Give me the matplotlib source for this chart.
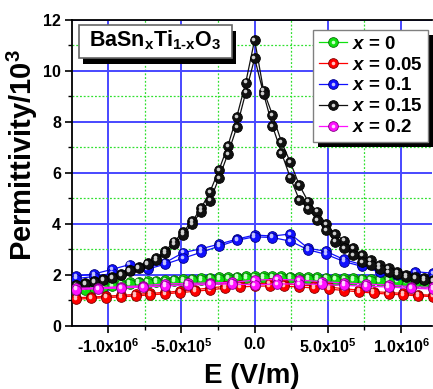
import matplotlib
matplotlib.use('Agg')
import matplotlib.pyplot as plt
from matplotlib.patches import Rectangle
from matplotlib.ticker import FixedLocator, MultipleLocator
from matplotlib.legend_handler import HandlerTuple
import matplotlib.transforms as mtransforms

# ---------------- data (E in kV/m, permittivity in 10^3) ----------------
E_black = [-1220, -1159, -1098, -1037, -976, -915, -854, -793, -732, -671, -610,
           -549, -488, -427, -366, -305, -244, -183, -122, -61, 0, 61, 122, 183,
           244, 305, 366, 427, 488, 549, 610, 671, 732, 793, 854, 915, 976, 1037,
           1098, 1159, 1220]
E_green = E_black
E_red = [-1220, -1118, -1017, -915, -813, -712, -610, -508, -407, -305, -203, -102,
         0, 102, 203, 305, 407, 508, 610, 712, 813, 915, 1017, 1118, 1220]
E_blue = [-1220, -1098, -976, -854, -732, -610, -488, -366, -244, -122, 0, 122,
          244, 366, 488, 610, 732, 854, 976, 1098, 1220]
E_mag = [-1220, -1067.5, -915, -762.5, -610, -457.5, -305, -152.5, 0, 152.5, 305,
         457.5, 610, 762.5, 915, 1067.5, 1220]

green_up = [1.42, 1.48, 1.55, 1.60, 1.64, 1.67, 1.70, 1.73, 1.75, 1.77, 1.79, 1.81,
            1.83, 1.85, 1.87, 1.89, 1.91, 1.92, 1.93, 1.94, 1.95, 1.95, 1.95, 1.94,
            1.93, 1.92, 1.91, 1.90, 1.89, 1.88, 1.87, 1.86, 1.85, 1.84, 1.83, 1.82,
            1.80, 1.78, 1.76, 1.74, 1.72]
green_lo = [1.36, 1.42, 1.48, 1.53, 1.57, 1.60, 1.63, 1.66, 1.68, 1.70, 1.72, 1.74,
            1.76, 1.78, 1.80, 1.82, 1.83, 1.85, 1.86, 1.87, 1.88, 1.88, 1.88, 1.87,
            1.86, 1.85, 1.84, 1.83, 1.82, 1.81, 1.80, 1.79, 1.78, 1.77, 1.76, 1.75,
            1.73, 1.71, 1.69, 1.67, 1.65]

red_up = [1.10, 1.12, 1.16, 1.19, 1.23, 1.27, 1.31, 1.36, 1.42, 1.48, 1.55, 1.60,
          1.65, 1.66, 1.64, 1.60, 1.56, 1.52, 1.45, 1.40, 1.34, 1.30, 1.27, 1.22, 1.20]
red_lo = [1.04, 1.07, 1.10, 1.13, 1.17, 1.21, 1.25, 1.30, 1.35, 1.41, 1.47, 1.52,
          1.55, 1.56, 1.55, 1.52, 1.48, 1.44, 1.38, 1.33, 1.28, 1.24, 1.21, 1.17, 1.14]

blue_up = [1.95, 2.03, 2.21, 2.40, 2.30, 2.48, 2.87, 3.02, 3.20, 3.40, 3.56, 3.52,
           3.60, 3.04, 2.92, 2.60, 2.40, 2.15, 2.08, 2.12, 2.06]
blue_lo = [1.85, 1.93, 2.05, 2.20, 2.22, 2.42, 2.65, 2.88, 3.12, 3.35, 3.49, 3.46,
           3.32, 2.98, 2.80, 2.52, 2.33, 2.10, 1.98, 1.95, 1.92]

black_up = [1.60, 1.66, 1.74, 1.83, 1.92, 2.03, 2.19, 2.30, 2.47, 2.65, 2.94, 3.30,
            3.69, 4.10, 4.61, 5.26, 6.11, 7.06, 8.20, 9.54, 11.22, 9.23, 8.27, 7.22,
            6.41, 5.52, 4.87, 4.48, 3.99, 3.60, 3.34, 3.04, 2.78, 2.58, 2.38, 2.25,
            2.12, 1.99, 1.92, 1.86, 1.80]
black_lo = [1.58, 1.63, 1.71, 1.79, 1.88, 1.99, 2.13, 2.25, 2.41, 2.59, 2.86, 3.20,
            3.58, 4.00, 4.48, 4.91, 5.79, 6.74, 7.79, 9.15, 10.50, 9.10, 7.84, 6.79,
            5.81, 4.94, 4.60, 4.15, 3.76, 3.30, 3.04, 2.78, 2.51, 2.40, 2.24, 2.12,
            2.02, 1.92, 1.85, 1.80, 1.74]

mag_up = [1.47, 1.49, 1.53, 1.57, 1.64, 1.66, 1.68, 1.70, 1.79, 1.82, 1.79, 1.73,
          1.68, 1.63, 1.60, 1.53, 1.50]
mag_lo = [1.42, 1.45, 1.48, 1.52, 1.56, 1.60, 1.62, 1.64, 1.60, 1.64, 1.64, 1.62,
          1.58, 1.55, 1.52, 1.47, 1.44]

labels = [r'$\mathit{x}$ = 0', r'$\mathit{x}$ = 0.05', r'$\mathit{x}$ = 0.1',
          r'$\mathit{x}$ = 0.15', r'$\mathit{x}$ = 0.2']
x_ticks = [-1.0e6, -5.0e5, 0.0, 5.0e5, 1.0e6]
x_ticklabels = ['-1.0x10$^6$', '-5.0x10$^5$', '0.0', '5.0x10$^5$', '1.0x10$^6$']
formula = r'$\mathrm{BaSn_xTi_{1‐x}O_3}$'

# ---------------- style ----------------
plt.rcParams['font.family'] = ['Liberation Sans', 'DejaVu Sans']
plt.rcParams['font.weight'] = 'bold'
plt.rcParams['mathtext.fontset'] = 'custom'
plt.rcParams['mathtext.rm'] = 'Liberation Sans:bold'
plt.rcParams['mathtext.bf'] = 'Liberation Sans:bold'
plt.rcParams['mathtext.it'] = 'Liberation Sans:bold:italic'
plt.rcParams['mathtext.default'] = 'rm'

W, H = 433.0, 389.0
fig = plt.figure(figsize=(W / 100, H / 100), dpi=100)
ax = fig.add_axes([0.1663, 0.1627, 0.8314, 0.7859])

hl_offset = mtransforms.offset_copy(ax.transData, fig=fig, x=-1.2, y=1.2, units='dots')

series = [
    (E_green, green_up, green_lo, '#10e010', '#067006', '#c8ffc8'),
    (E_red, red_up, red_lo, '#ff0000', '#800000', '#ffc0c0'),
    (E_blue, blue_up, blue_lo, '#1010ff', '#000080', '#c0c0ff'),
    (E_black, black_up, black_lo, '#111111', '#000000', '#d0d0d0'),
    (E_mag, mag_up, mag_lo, '#ff10ff', '#800080', '#ffd0ff'),
]

handles = []
for (E, up, lo, col, edge, hl), lab in zip(series, labels):
    xs = [e * 1e3 for e in E] + [e * 1e3 for e in E[::-1]]
    ys = list(up) + list(lo[::-1])
    main, = ax.plot(xs, ys, '-', color=col, lw=0.9, marker='o', ms=7,
                    mfc=col, mec=edge, mew=0.6, zorder=3)
    ax.plot(xs, ys, ls='none', marker='o', ms=2.6, mfc=hl, mec='none',
            transform=hl_offset, zorder=3)
    hleg, = ax.plot([], [], ls='none', marker='o', ms=2.6, mfc=hl, mec='none')
    handles.append((main, hleg))

ax.set_xlim(-1.248e6, 1.212e6)
ax.set_ylim(0, 12)

ax.xaxis.set_major_locator(FixedLocator(x_ticks))
ax.set_xticklabels(x_ticklabels)
ax.xaxis.set_minor_locator(MultipleLocator(2.5e5))
ax.yaxis.set_major_locator(MultipleLocator(2))
ax.yaxis.set_minor_locator(MultipleLocator(1))

ax.set_axisbelow(True)
ax.grid(which='major', color='#4848ff', lw=1.4)
ax.grid(which='minor', color='#30e030', lw=0.9, ls=(0, (1.5, 1.5)))

for s in ['left', 'bottom', 'top']:
    ax.spines[s].set_linewidth(1.3)
    ax.spines[s].set_color('black')
ax.spines['right'].set_visible(False)

ax.tick_params(which='major', direction='out', length=5, width=1.2,
               labelsize=11.5, pad=3, top=False, right=False)
ax.tick_params(which='minor', direction='out', length=3, width=1.0,
               top=False, right=False)

ax.set_ylabel('Permittivity/10$^3$', fontsize=21, fontweight='bold')
ax.yaxis.set_label_coords(-0.088, 0.56)
ax.set_xlabel('E (V/m)', fontsize=20, fontweight='bold')
ax.xaxis.set_label_coords(0.5, -0.122)

# ---------------- figure-level legend ----------------
leg = fig.legend(handles, labels, handler_map={tuple: HandlerTuple(ndivide=1)},
                 loc='upper right', bbox_to_anchor=(428 / W, (H - 30) / H),
                 borderaxespad=0, frameon=True, fancybox=False, edgecolor='#808080',
                 framealpha=1, fontsize=13.5, handlelength=1.5, handletextpad=0.25,
                 labelspacing=0.2, borderpad=0.3, numpoints=1)
leg.get_frame().set_linewidth(1.0)
leg.set_zorder(6)

# ---------------- formula box (figure coords) ----------------
bx0, by1 = 79 / W, (H - 25) / H
bw, bh = (232 - 79) / W, (58 - 25) / H
by0 = by1 - bh
fig.add_artist(Rectangle((bx0 + 4 / W, by0 - 6 / H), bw, bh, transform=fig.transFigure,
                         facecolor='black', edgecolor='none', zorder=4.0))
fig.add_artist(Rectangle((bx0, by0), bw, bh, transform=fig.transFigure,
                         facecolor='white', edgecolor='#666666', lw=1.2, zorder=4.1))
fig.text(bx0 + bw / 2, by0 + bh / 2 + 1.5 / H, formula, ha='center', va='center',
         fontsize=15.5, zorder=4.2)

# ---------------- legend shadow ----------------
fig.canvas.draw()
bb = leg.get_window_extent()
fig.add_artist(Rectangle(((bb.x0 + 5) / W, (bb.y0 - 5) / H), bb.width / W, bb.height / H,
                         transform=fig.transFigure, facecolor='black', edgecolor='none',
                         zorder=5.0))

fig.savefig('out.png', dpi=100)
